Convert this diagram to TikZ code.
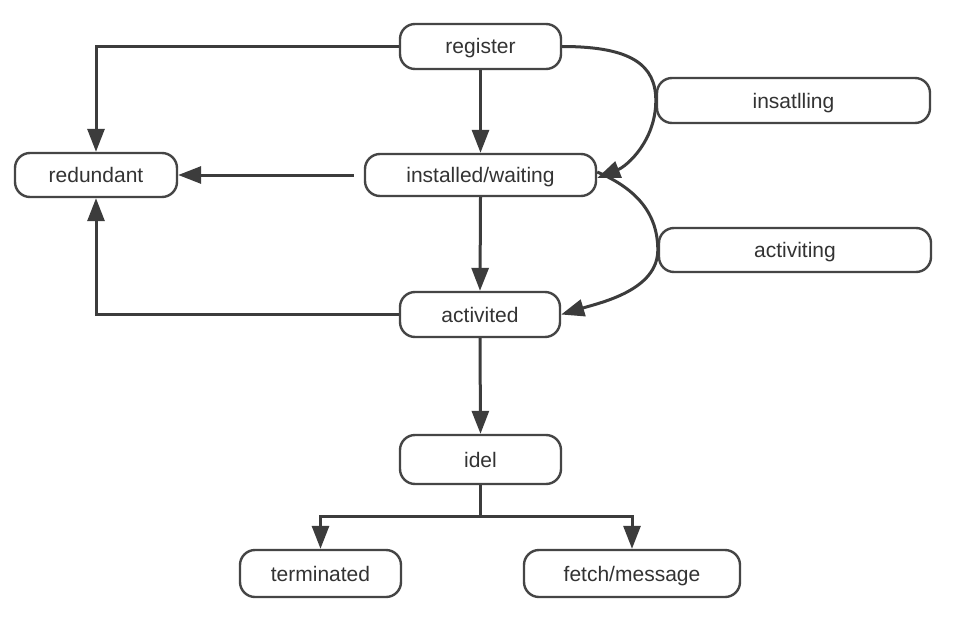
\documentclass[tikz,border=0pt]{standalone}
\usepackage{fontspec}
\setmainfont{Liberation Sans}
\usetikzlibrary{arrows.meta}
\definecolor{boxc}{HTML}{454545}
\definecolor{linec}{HTML}{3C3C3C}
\definecolor{textc}{HTML}{333333}
\begin{document}
\begin{tikzpicture}[x=1pt,y=-1pt,
  state/.style={draw=boxc, line width=2.4pt, rounded corners=15pt, fill=white,
    inner sep=0pt, minimum height=45pt, font=\fontsize{21}{25}\selectfont, text=textc,
    text height=16pt, text depth=1pt},
  link/.style={draw=linec, line width=3pt, -{Triangle[length=23pt,width=17pt]}},
  plainlink/.style={draw=linec, line width=3pt}]
\fill[white] (0,0) rectangle (958,626);
\useasboundingbox (0,0) rectangle (958,626);

\node[state, minimum width=161pt] (reg) at (480.5,46.5) {register};
\node[state, minimum width=273pt] (ins) at (793.5,100.5) {insatlling};
\node[state, minimum width=162pt, minimum height=44pt] (red) at (96,175) {redundant};
\node[state, minimum width=231pt, minimum height=42pt] (wait) at (480.5,175) {installed/waiting};
\node[state, minimum width=272pt, minimum height=44pt] (act) at (795,250) {activiting};
\node[state, minimum width=160pt] (acd) at (480,314.5) {activited};
\node[state, minimum width=161pt, minimum height=49pt] (idl) at (480.5,459.5) {idel};
\node[state, minimum width=161pt, minimum height=47pt] (term) at (320.5,573.5) {terminated};
\node[state, minimum width=216pt, minimum height=47pt] (fetch) at (632,573.5) {fetch/message};

\draw[link] (reg.west) -| (red.north);
\draw[link] (reg.south) -- (wait.north);
\draw[link] (reg.east) .. controls +(70,0) and +(0,-35) .. (ins.west)
  .. controls +(0,40) and +(30,-12) .. ([yshift=-3pt]wait.east);
\draw[link, shorten <=10pt] (wait.west) -- (red.east);
\draw[link] (wait.south) -- (acd.north);
\draw[link] ([yshift=3pt]wait.east) .. controls +(35,15) and +(0,-40) .. (act.west)
  .. controls +(0,40) and +(40,-12) .. (acd.east);
\draw[link] (acd.west) -| (red.south);
\draw[link] (acd.south) -- (idl.north);
\coordinate (br) at (480.5,516);
\draw[plainlink] (idl.south) -- (br);
\draw[link] (br) -| (term.north);
\draw[link] (br) -| (fetch.north);
\end{tikzpicture}
\end{document}
